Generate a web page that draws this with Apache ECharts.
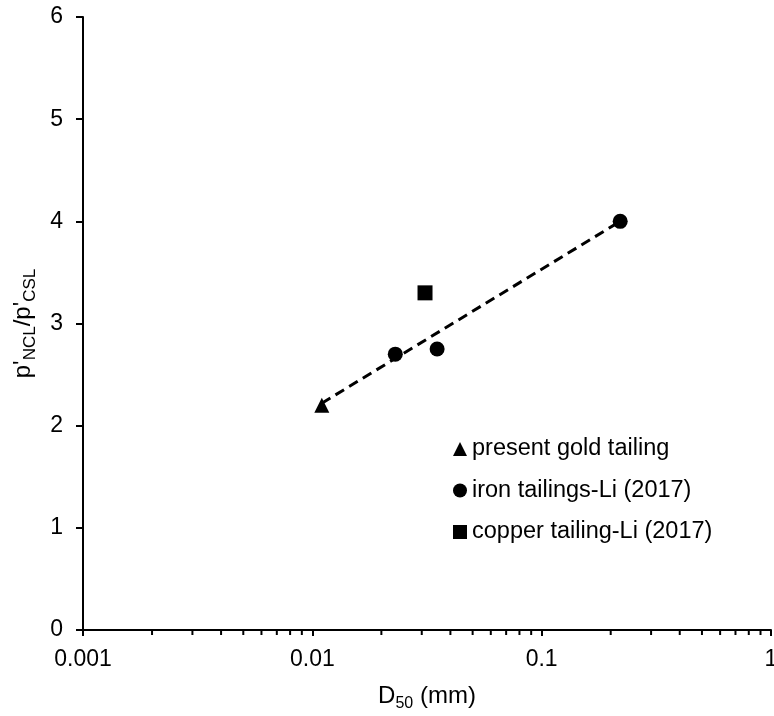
<!DOCTYPE html>
<html>
<head>
<meta charset="utf-8">
<script src="https://cdn.jsdelivr.net/npm/echarts@6/dist/echarts.min.js"></script>
<style>
html,body{margin:0;padding:0;background:#fff;}
#chart{width:774px;height:716px;}
</style>
</head>
<body>
<div id="chart"></div>
<script>
// ---- data ----
const seriesNames = ['present gold tailing', 'iron tailings-Li (2017)', 'copper tailing-Li (2017)'];
const goldX = [0.011];
const goldY = [2.2];
const ironX = [0.023, 0.035, 0.22];
const ironY = [2.7, 2.75, 4.0];
const copperX = [0.031];
const copperY = [3.3];
const trendX = [0.011, 0.22];
const trendY = [2.22, 4.0];
const xTickLabels = ['0.001', '0.01', '0.1', '1'];
const xMinorTicks = [0.002,0.003,0.004,0.005,0.006,0.007,0.008,0.009,
                     0.02,0.03,0.04,0.05,0.06,0.07,0.08,0.09,
                     0.2,0.3,0.4,0.5,0.6,0.7,0.8,0.9];
const yTickLabels = ['0','1','2','3','4','5','6'];

const zip = (xs, ys) => xs.map((x, i) => [x, ys[i]]);
const FONT = "'Liberation Sans', Arial, sans-serif";

const chart = echarts.init(document.getElementById('chart'));
chart.setOption({
  animation: false,
  backgroundColor: '#fff',
  grid: { left: 83, top: 17, right: 3, bottom: 86, containLabel: false, outerBoundsMode: 'none' },
  legend: {
    orient: 'vertical',
    left: 448,
    top: 431,
    itemWidth: 14,
    itemHeight: 14,
    itemGap: 15.5,
    textStyle: { fontFamily: FONT, fontSize: 23.5, color: '#000', lineHeight: 26 },
    data: [
      { name: seriesNames[0], icon: 'triangle' },
      { name: seriesNames[1], icon: 'circle' },
      { name: seriesNames[2], icon: 'rect' }
    ]
  },
  xAxis: {
    type: 'log',
    logBase: 10,
    min: 0.001,
    max: 1,
    name: '{n|D}{s|50}{n| (mm)}',
    nameLocation: 'middle',
    nameGap: 50,
    nameTextStyle: {
      color: '#000',
      rich: {
        n: { fontFamily: FONT, fontSize: 24, color: '#000', lineHeight: 32, verticalAlign: 'middle' },
        s: { fontFamily: FONT, fontSize: 16, color: '#000', lineHeight: 15, verticalAlign: 'bottom' }
      }
    },
    axisLine: { show: true, lineStyle: { color: '#000', width: 2 } },
    axisTick: { show: true, inside: false, length: 6, lineStyle: { color: '#000', width: 2 } },
    axisLabel: {
      fontFamily: FONT, fontSize: 23, color: '#000', margin: 18,
      formatter: v => xTickLabels[Math.round(Math.log10(v)) + 3]
    },
    splitLine: { show: false },
    minorTick: { show: false }
  },
  yAxis: {
    type: 'value',
    min: 0,
    max: 6,
    interval: 1,
    name: "{n|p'}{s|NCL}{n|/p'}{s|CSL}",
    nameLocation: 'middle',
    nameRotate: 90,
    nameGap: 41,
    nameTextStyle: {
      color: '#000',
      rich: {
        n: { fontFamily: FONT, fontSize: 24, color: '#000', lineHeight: 32, verticalAlign: 'middle' },
        s: { fontFamily: FONT, fontSize: 17, color: '#000', lineHeight: 15, verticalAlign: 'bottom' }
      }
    },
    axisLine: { show: true, lineStyle: { color: '#000', width: 2 } },
    axisTick: { show: true, inside: false, length: 7, lineStyle: { color: '#000', width: 2 } },
    axisLabel: {
      fontFamily: FONT, fontSize: 23, color: '#000', margin: 20,
      formatter: v => yTickLabels[Math.round(v)]
    },
    splitLine: { show: false }
  },
  series: [
    {
      name: 'trend',
      type: 'line',
      data: zip(trendX, trendY),
      symbol: 'none',
      lineStyle: { color: '#000', width: 3, type: [10, 6] },
      z: 1
    },
    {
      name: seriesNames[0],
      type: 'scatter',
      symbol: 'triangle',
      symbolSize: 15,
      itemStyle: { color: '#000', opacity: 1 },
      data: zip(goldX, goldY),
      z: 3
    },
    {
      name: seriesNames[1],
      type: 'scatter',
      symbol: 'circle',
      symbolSize: 15,
      itemStyle: { color: '#000', opacity: 1 },
      data: zip(ironX, ironY),
      z: 3
    },
    {
      name: seriesNames[2],
      type: 'scatter',
      symbol: 'rect',
      symbolSize: 15,
      itemStyle: { color: '#000', opacity: 1 },
      data: zip(copperX, copperY),
      z: 3
    },
    {
      name: 'minorTicks',
      type: 'custom',
      clip: false,
      silent: true,
      data: xMinorTicks.map(v => [v, 0]),
      renderItem: function (params, api) {
        const p = api.coord([api.value(0), api.value(1)]);
        return {
          type: 'line',
          shape: { x1: p[0], y1: p[1], x2: p[0], y2: p[1] + 5 },
          style: { stroke: '#000', lineWidth: 2 }
        };
      },
      z: 2
    }
  ]
});
</script>
</body>
</html>
